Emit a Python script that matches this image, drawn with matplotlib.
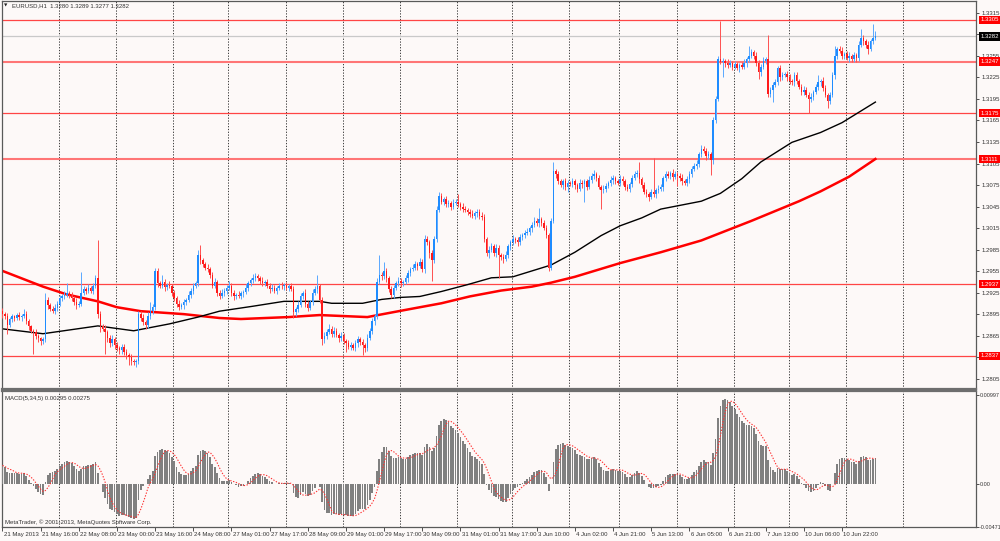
import matplotlib
matplotlib.use("Agg")
import matplotlib.pyplot as plt
import matplotlib.transforms as mtransforms
import numpy as np

plt.rcParams['font.family'] = ['Liberation Sans', 'DejaVu Sans']

# ---------------- data ----------------
symbol_header = "EURUSD,H1  1.3280 1.3289 1.3277 1.3282"
macd_header = "MACD(5,34,5) 0.00295 0.00275"
copyright_text = "MetaTrader, \u00a9 2001-2013, MetaQuotes Software Corp."

base_price = 1.2800          # prices below are pips above this
first_open_pips = 100

close_pips = [
    95, 92, 80, 88, 92, 90, 94, 91, 93, 96,
    85, 78, 72, 70, 65, 62, 58, 60, 115, 108,
    103, 100, 104, 110, 118, 120, 122, 124, 122, 118,
    112, 108, 110, 125, 130, 128, 132, 128, 135, 145,
    95, 78, 75, 70, 62, 55, 60, 52, 48, 45,
    50, 42, 38, 35, 30, 28, 30, 96, 90, 84,
    80, 92, 100, 105, 155, 138, 135, 140, 133, 136,
    134, 125, 118, 110, 105, 108, 112, 115, 122, 128,
    135, 138, 178, 170, 165, 160, 158, 150, 135, 140,
    125, 120, 125, 128, 132, 135, 125, 120, 122, 120,
    124, 126, 132, 138, 143, 146, 148, 145, 142, 138,
    140, 135, 130, 132, 128, 132, 135, 134, 136, 132,
    134, 130, 98, 102, 108, 120, 125, 110, 104, 112,
    125, 130, 134, 115, 60, 65, 70, 75, 68, 72,
    66, 62, 65, 58, 55, 50, 52, 48, 55, 60,
    56, 52, 48, 62, 72, 85, 92, 140, 150, 148,
    155, 145, 130, 122, 132, 138, 142, 138, 140, 145,
    152, 158, 160, 165, 162, 168, 158, 200, 195, 180,
    170, 200, 240, 260, 252, 255, 248, 250, 245, 250,
    252, 248, 245, 242, 240, 238, 235, 232, 236, 238,
    232, 230, 200, 180, 185, 190, 180, 188, 178, 175,
    172, 178, 190, 195, 200, 198, 195, 202, 205, 208,
    210, 215, 220, 225, 222, 228, 222, 215, 205, 160,
    225, 295, 290, 280, 275, 280, 272, 278, 276, 280,
    275, 270, 278, 276, 280, 272, 282, 288, 290, 285,
    272, 268, 270, 274, 278, 282, 285, 280, 278, 284,
    280, 272, 270, 276, 285, 290, 292, 283, 275, 265,
    262, 258, 265, 262, 268, 270, 272, 285, 290, 288,
    292, 286, 290, 288, 285, 280, 278, 283, 290, 298,
    302, 305, 318, 325, 322, 315, 318, 310, 365, 395,
    450, 447, 448, 445, 442, 445, 440, 443, 438, 442,
    440, 445, 450, 455, 460, 455, 445, 432, 440, 448,
    450, 402, 408, 415, 418, 438, 425, 428, 430, 425,
    420, 418, 428, 420, 412, 405, 408, 400, 395, 398,
    405, 412, 418, 420, 410, 400, 392, 400, 428, 455,
    465, 462, 455, 458, 452, 455, 450, 456, 452, 470,
    480, 475, 470, 465, 475, 480, 482,
]

upper_wick_pips = [
    4, 3, 5, 3, 4, 2, 3, 4, 3, 7,
    3, 4, 2, 3, 4, 3, 2, 4, 10, 4,
    3, 4, 5, 3, 4, 3, 5, 14, 3, 4,
    3, 5, 4, 29, 4, 3, 5, 3, 4, 5,
    53, 4, 3, 5, 3, 4, 6, 3, 4, 3,
    4, 3, 5, 3, 4, 3, 2, 4, 3, 5,
    3, 6, 12, 5, 5, 4, 3, 10, 4, 3,
    5, 3, 4, 3, 5, 3, 4, 3, 5, 4,
    3, 4, 7, 14, 4, 3, 5, 3, 4, 5,
    3, 4, 5, 3, 4, 6, 3, 4, 3, 5,
    4, 3, 5, 4, 3, 5, 4, 3, 4, 5,
    3, 4, 3, 5, 4, 3, 4, 5, 3, 4,
    3, 5, 4, 3, 5, 4, 3, 5, 4, 3,
    5, 4, 16, 3, 4, 5, 4, 6, 3, 5,
    4, 3, 5, 4, 3, 4, 5, 3, 4, 5,
    3, 4, 3, 5, 4, 5, 4, 6, 27, 4,
    13, 4, 3, 5, 4, 3, 5, 4, 3, 5,
    4, 3, 5, 4, 3, 5, 4, 6, 4, 3,
    5, 4, 6, 5, 4, 3, 5, 4, 3, 5,
    4, 10, 3, 5, 4, 3, 4, 5, 3, 4,
    3, 5, 4, 3, 5, 4, 3, 5, 4, 3,
    4, 5, 3, 4, 5, 3, 4, 5, 3, 4,
    5, 3, 4, 5, 4, 15, 3, 4, 5, 3,
    4, 12, 3, 5, 4, 3, 5, 4, 3, 5,
    4, 3, 5, 4, 3, 4, 5, 4, 6, 3,
    4, 3, 5, 4, 3, 5, 4, 3, 4, 5,
    3, 4, 5, 3, 4, 5, 4, 15, 3, 4,
    5, 3, 4, 47, 3, 5, 4, 3, 5, 4,
    3, 5, 4, 3, 4, 5, 3, 4, 5, 3,
    4, 5, 3, 6, 4, 5, 4, 3, 5, 4,
    5, 54, 4, 3, 5, 4, 3, 5, 4, 3,
    4, 5, 3, 14, 4, 3, 5, 4, 3, 5,
    4, 34, 3, 4, 5, 3, 4, 5, 3, 4,
    5, 3, 4, 5, 3, 4, 5, 3, 4, 5,
    3, 4, 10, 3, 5, 4, 3, 4, 5, 14,
    3, 4, 5, 3, 4, 5, 3, 4, 3, 5,
    12, 4, 3, 5, 4, 19, 7,
]

lower_wick_pips = [
    5, 4, 12, 3, 4, 5, 3, 4, 5, 3,
    4, 5, 3, 30, 4, 5, 6, 4, 3, 5,
    4, 3, 5, 4, 3, 5, 4, 3, 4, 5,
    4, 5, 3, 4, 3, 5, 4, 3, 5, 4,
    5, 8, 4, 30, 6, 5, 4, 5, 4, 6,
    5, 4, 6, 10, 5, 4, 7, 4, 5, 4,
    5, 4, 3, 5, 4, 5, 4, 3, 5, 4,
    3, 5, 4, 5, 4, 3, 5, 4, 3, 4,
    5, 3, 4, 5, 4, 3, 4, 5, 4, 3,
    5, 4, 3, 4, 5, 3, 4, 5, 4, 3,
    4, 5, 3, 4, 3, 5, 4, 3, 5, 4,
    3, 4, 5, 3, 4, 5, 3, 4, 5, 3,
    4, 3, 8, 5, 4, 3, 4, 5, 4, 3,
    4, 3, 5, 4, 8, 5, 4, 3, 5, 4,
    3, 5, 4, 5, 12, 4, 5, 3, 4, 5,
    4, 14, 5, 4, 3, 4, 5, 4, 3, 5,
    4, 5, 4, 4, 5, 3, 4, 5, 4, 3,
    5, 4, 3, 4, 5, 3, 4, 5, 4, 6,
    29, 4, 5, 3, 4, 5, 3, 4, 5, 4,
    3, 4, 5, 4, 3, 5, 4, 3, 4, 5,
    4, 3, 5, 4, 6, 3, 4, 5, 33, 4,
    5, 3, 4, 5, 3, 4, 5, 4, 3, 4,
    3, 4, 5, 3, 4, 5, 4, 3, 4, 5,
    4, 3, 5, 4, 3, 5, 4, 6, 3, 4,
    5, 4, 3, 5, 24, 4, 3, 4, 5, 4,
    3, 27, 4, 5, 3, 4, 5, 4, 3, 4,
    5, 4, 3, 5, 4, 3, 4, 5, 4, 3,
    4, 5, 3, 4, 5, 4, 3, 5, 4, 3,
    4, 5, 3, 15, 4, 5, 3, 4, 5, 4,
    3, 4, 5, 4, 3, 5, 4, 21, 5, 4,
    3, 4, 21, 5, 4, 3, 5, 4, 3, 5,
    4, 3, 5, 4, 3, 5, 4, 9, 5, 3,
    4, 4, 5, 17, 4, 3, 5, 4, 3, 5,
    4, 3, 5, 4, 3, 5, 4, 3, 19, 4,
    5, 3, 4, 5, 4, 3, 10, 4, 3, 5,
    4, 3, 5, 4, 3, 5, 4, 3, 5, 4,
    3, 5, 4, 7, 3, 4, 3,
]

# moving averages (bar index, pips above base)
black_ma_bars = [0, 17, 40, 55, 70, 82, 91, 105, 118, 133, 138, 151, 159, 167, 175, 184, 195,
                 205, 214, 230, 240, 251, 259, 268, 276, 293, 301, 310, 318, 331, 343, 352, 360, 366]
black_ma_pips = [74.7, 67.9, 78.8, 72.0, 81.6, 91.1, 99.3, 106.2, 113.0, 113.0, 110.3, 110.3,
                 115.7, 118.5, 119.8, 126.7, 136.3, 145.8, 147.2, 163.6, 181.4, 204.6, 218.3,
                 229.2, 241.5, 252.5, 263.4, 283.9, 307.2, 334.5, 348.2, 361.9, 378.3, 390.6]
red_ma_bars = [0, 17, 27, 40, 48, 58, 76, 91, 100, 120, 133, 153, 164, 175, 184, 196, 209, 222,
               230, 240, 259, 276, 293, 314, 334, 343, 355, 366]
red_ma_pips = [155.4, 133.5, 122.6, 113.0, 104.8, 99.3, 95.2, 89.8, 88.4, 91.1, 93.9, 91.1,
               98.0, 104.8, 110.3, 119.9, 128.0, 133.5, 139.0, 147.2, 166.3, 181.4, 197.8,
               225.1, 252.5, 266.2, 286.7, 311.3]

level_prices = [1.3305, 1.3247, 1.3175, 1.3111, 1.2937, 1.2837]
level_bold = [False, True, False, True, False, False]
current_price = 1.3282

price_ticks = [1.3315, 1.3285, 1.3255, 1.3225, 1.3195, 1.3165, 1.3135, 1.3105, 1.3075,
               1.3045, 1.3015, 1.2985, 1.2955, 1.2925, 1.2895, 1.2865, 1.2835, 1.2805]

macd_fast, macd_slow, macd_signal = 5, 34, 5
macd_start = 0.0021
macd_tick_values = [0.00997, 0.0, -0.00471]
macd_tick_labels = ["0.00997", "0.00", "-0.00471"]

date_label_bars = [0, 16, 32, 48, 64, 80, 96, 112, 128, 144, 160, 176, 192, 208, 224, 240,
                   256, 272, 288, 304, 320, 336, 352]
date_labels = ["21 May 2013", "21 May 16:00", "22 May 08:00", "23 May 00:00", "23 May 16:00",
               "24 May 08:00", "27 May 01:00", "27 May 17:00", "28 May 09:00", "29 May 01:00",
               "29 May 17:00", "30 May 09:00", "31 May 01:00", "31 May 17:00", "3 Jun 10:00",
               "4 Jun 02:00", "4 Jun 21:00", "5 Jun 13:00", "6 Jun 05:00", "6 Jun 21:00",
               "7 Jun 13:00", "10 Jun 06:00", "10 Jun 22:00"]
day_start_bars = [24, 48, 72, 95, 119, 143, 167, 191, 214, 238, 259, 283, 307, 330, 354, 378]

# ---------------- derived ----------------
c = base_price + np.array(close_pips, float) / 1e4
n = len(c)
o = np.empty(n)
o[0] = base_price + first_open_pips / 1e4
o[1:] = c[:-1]
h = np.maximum(o, c) + np.array(upper_wick_pips, float) / 1e4
l = np.minimum(o, c) - np.array(lower_wick_pips, float) / 1e4
x = np.arange(n)

a_f = 2.0 / (macd_fast + 1)
a_s = 2.0 / (macd_slow + 1)
ef = c[0]
es = c[0] - macd_start
macd = np.empty(n)
for i in range(n):
    if i > 0:
        ef += a_f * (c[i] - ef)
        es += a_s * (c[i] - es)
    macd[i] = ef - es
signal = np.array([macd[max(0, i - macd_signal + 1):i + 1].mean() for i in range(n)])

# ---------------- figure ----------------
BG = '#fdf9f8'
W, H = 1000, 541
fig = plt.figure(figsize=(10, 5.41), dpi=100, facecolor=BG)
ax = fig.add_axes([2 / W, 1 - 389 / H, 974 / W, 388 / H], facecolor=BG)
axm = fig.add_axes([2 / W, 1 - 527 / H, 974 / W, 136 / H], facecolor=BG, sharex=ax)

xl = (-0.2, -0.2 + 974 / 2.385)
ax.set_xlim(*xl)
ax.set_ylim(1.27909, 1.33314)
axm.set_ylim(-0.00476, 0.0104)

for a in (ax, axm):
    for s in a.spines.values():
        s.set_color('#5a5a5a')
        s.set_linewidth(0.9)
    for b in day_start_bars:
        a.axvline(b - 0.3, color='#3c3c3c', lw=0.7, ls=(0, (1.3, 1.6)), zorder=1)
ax.spines['bottom'].set_linewidth(1.6)
ax.spines['bottom'].set_color('#6e6e6e')
axm.spines['top'].set_linewidth(1.6)
axm.spines['top'].set_color('#6e6e6e')

# horizontal levels
ax.axhline(current_price, color='#c9c9c9', lw=0.9, zorder=1.5)
for p, bold in zip(level_prices, level_bold):
    ax.axhline(p, color='#ff7676' if bold else '#ff4545', lw=1.5 if bold else 0.9, zorder=1.6)

# moving averages
ax.plot(red_ma_bars, base_price + np.array(red_ma_pips) / 1e4, color='#ff0000', lw=1.8, zorder=2)
ax.plot(black_ma_bars, base_price + np.array(black_ma_pips) / 1e4, color='#000000', lw=1.0, zorder=2)

# candles
bull = c >= o
bear = ~bull
BLUE = '#1e8cff'
RED = '#ff1a1a'
ax.vlines(x[bull], l[bull], h[bull], colors='#5aa8ff', lw=0.7, zorder=3)
ax.vlines(x[bear], l[bear], h[bear], colors='#ff5050', lw=0.7, zorder=3)
body = np.maximum(np.abs(c - o), 0.00006)
ax.bar(x[bull], body[bull], bottom=o[bull], width=0.62, color=BLUE, lw=0, zorder=3.5)
ax.bar(x[bear], body[bear], bottom=c[bear], width=0.62, color=RED, lw=0, zorder=3.5)

# price axis
ax.yaxis.tick_right()
ax.set_yticks(price_ticks)
ax.set_yticklabels([f"{p:.4f}" for p in price_ticks])
ax.tick_params(axis='y', length=2.5, width=0.6, pad=1.5, labelsize=4.3, colors='#333333')
ax.tick_params(axis='x', bottom=False, labelbottom=False)

tr = mtransforms.blended_transform_factory(ax.transAxes, ax.transData)
for p in level_prices:
    ax.text(1.0045, p, f"{p:.4f}", transform=tr, ha='left', va='center', fontsize=4.3,
            color='white', clip_on=False, zorder=6,
            bbox=dict(boxstyle='square,pad=0.28', fc='#ff0000', ec='none'))
ax.text(1.0045, current_price, f"{current_price:.4f}", transform=tr, ha='left', va='center',
        fontsize=4.3, color='white', clip_on=False, zorder=6,
        bbox=dict(boxstyle='square,pad=0.28', fc='#000000', ec='none'))

ax.text(0.0025, 0.993, "\u25bc", transform=ax.transAxes, ha='left', va='top', fontsize=3.2,
        color='#222222', family=['DejaVu Sans'])
ax.text(0.0105, 0.995, symbol_header, transform=ax.transAxes, ha='left', va='top',
        fontsize=4.3, color='#333333')

# MACD pane
axm.bar(x, macd, width=0.72, color='#808080', lw=0, zorder=3)
axm.plot(x, signal, color='#ff3030', lw=0.8, ls=(0, (1.2, 1.4)), zorder=4)
axm.yaxis.tick_right()
axm.set_yticks(macd_tick_values)
axm.set_yticklabels(macd_tick_labels)
axm.tick_params(axis='y', length=2.0, width=0.6, pad=1.0, labelsize=3.9, colors='#333333')
axm.set_xticks(date_label_bars)
axm.tick_params(axis='x', length=3, width=0.6, direction='out', colors='#333333',
                labelbottom=False)
trx = mtransforms.blended_transform_factory(axm.transData, axm.transAxes)
for b, lab in zip(date_label_bars, date_labels):
    axm.text(b + 0.5, -0.035, lab, transform=trx, ha='left', va='top', fontsize=4.3,
             color='#333333', clip_on=False)
axm.text(0.003, 0.965, macd_header, transform=axm.transAxes, ha='left', va='top',
         fontsize=4.3, color='#333333')
axm.text(0.003, 0.012, copyright_text, transform=axm.transAxes, ha='left', va='bottom',
         fontsize=4.3, color='#333333')
axm.set_xlim(*xl)

fig.savefig('out.png', dpi=100, facecolor=BG)
